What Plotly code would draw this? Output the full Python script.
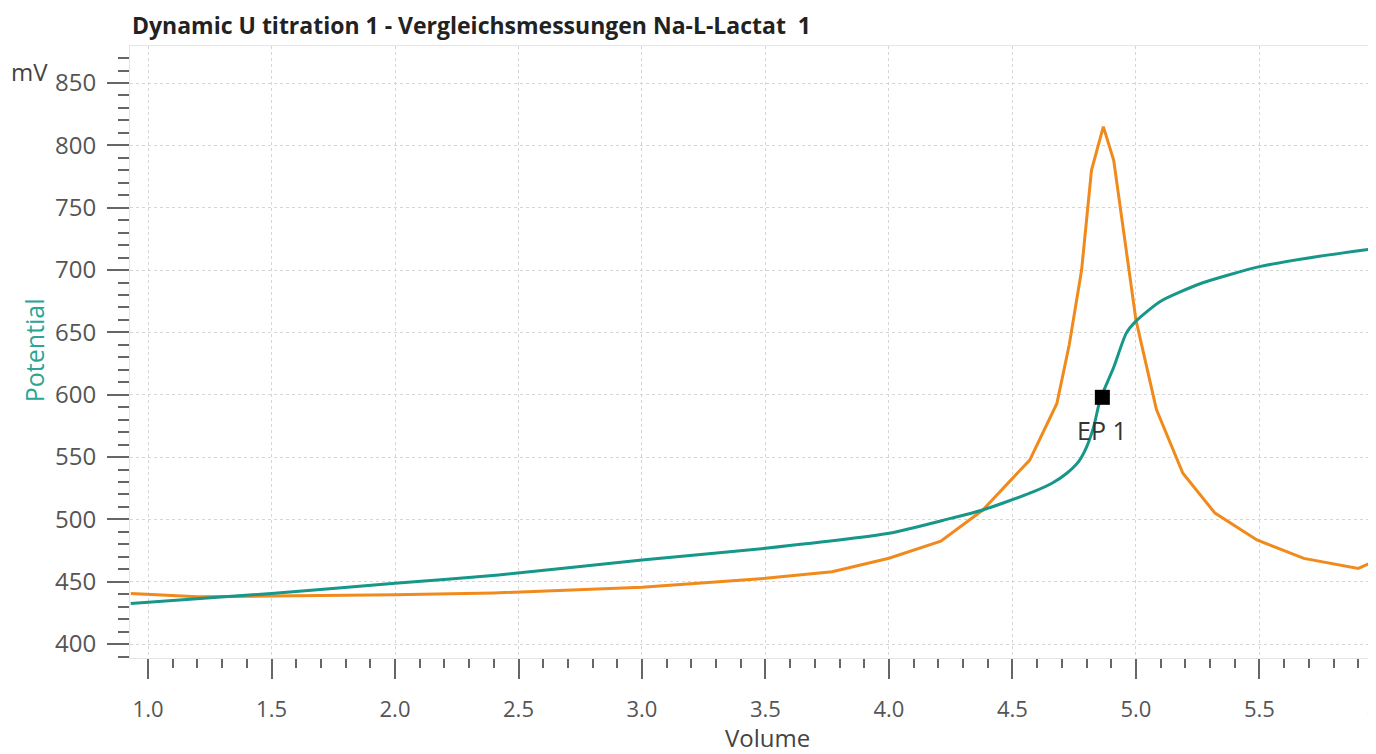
import plotly.graph_objects as go

# ---- data ----
volume_potential = [0.93, 1.5, 2.0, 2.42, 3.0, 3.5, 4.0, 4.25, 4.38, 4.57, 4.66, 4.72, 4.77, 4.80,
                    4.83, 4.855, 4.91, 4.96, 5.0, 5.1, 5.26, 5.5, 5.73, 5.975]
potential_mv = [432.5, 440.6, 448.7, 455.4, 467.4, 476.8, 488.8, 500.8, 507.5, 521.0, 529.0, 537.0,
                547.0, 558.0, 575.0, 596.0, 622.0, 649.0, 659.0, 675.0, 689.0, 702.7, 710.7, 717.5]

volume_deriv = [0.93, 1.2, 1.5, 2.0, 2.4, 3.0, 3.5, 3.77, 4.0, 4.21, 4.38, 4.57, 4.68, 4.73,
                4.78, 4.82, 4.868, 4.91, 5.0, 5.083, 5.19, 5.32, 5.49, 5.68, 5.90, 5.975]
deriv_mv = [440.5, 438.0, 438.5, 439.5, 441.0, 445.5, 452.7, 458.0, 468.8, 482.5, 507.5, 547.6,
            593.0, 640.0, 700.0, 780.0, 815.0, 788.0, 660.0, 588.0, 537.0, 505.0, 483.5, 468.7,
            460.7, 467.0]

ep_volume = [4.864]
ep_potential = [597.9]
ep_labels = ["EP 1"]

x_range = [0.927, 5.972]
y_range = [388.8, 879.7]

title_text = "Dynamic U titration 1 - Vergleichsmessungen Na-L-Lactat\u00a0 1"

TEAL = "#17968a"
ORANGE = "#f08a1c"
FONT = "Open Sans"

fig = go.Figure()
fig.add_trace(go.Scatter(x=volume_deriv, y=deriv_mv, mode="lines",
                         line=dict(color=ORANGE, width=3), showlegend=False))
fig.add_trace(go.Scatter(x=volume_potential, y=potential_mv, mode="lines",
                         line=dict(color=TEAL, width=3, shape="spline", smoothing=0.6),
                         showlegend=False))
fig.add_trace(go.Scatter(x=ep_volume, y=ep_potential, mode="markers",
                         marker=dict(symbol="square", size=15, color="black"),
                         showlegend=False))

for xv, yv, t in zip(ep_volume, ep_potential, ep_labels):
    fig.add_annotation(x=xv, y=yv, text=t, showarrow=False, yshift=-33,
                       font=dict(family=FONT, size=25, color="#333333"))

axis_common = dict(
    showgrid=True, gridcolor="#d6d6d6", griddash="dot", gridwidth=1,
    zeroline=False, showline=True, linecolor="#e4e4e4", linewidth=1, mirror=True,
    ticks="outside", tickwidth=2, tickcolor="#666666",
)

# the page body adds an 8px offset; the figure is sized to fill the rest of the window
fig.update_layout(
    width=1368, height=746,
    margin=dict(l=122, r=0, t=38, b=96),
    paper_bgcolor="white", plot_bgcolor="white",
    xaxis=dict(range=x_range, tick0=0, dtick=0.5, tickformat=".1f", ticklen=20,
               ticklabelstandoff=12,
               tickfont=dict(family=FONT, size=22, color="#555555"),
               minor=dict(dtick=0.1, ticks="outside", ticklen=9, tickwidth=2,
                          tickcolor="#666666", showgrid=False),
               **axis_common),
    yaxis=dict(range=y_range, tick0=0, dtick=50, ticklen=22, ticklabelstandoff=6,
               tickfont=dict(family=FONT, size=24, color="#555555"),
               minor=dict(dtick=10, ticks="outside", ticklen=11, tickwidth=2,
                          tickcolor="#666666", showgrid=False),
               **axis_common),
    font=dict(family=FONT),
)

# title
fig.add_annotation(xref="paper", yref="paper", x=0, y=1.034, xanchor="left", yanchor="middle",
                   text="<b>" + title_text + "</b>", showarrow=False,
                   font=dict(family=FONT, size=23, color="#222222"))
# unit
fig.add_annotation(xref="paper", yref="paper", x=-0.0803, y=0.959, xanchor="center", yanchor="middle",
                   text="mV", showarrow=False, font=dict(family=FONT, size=24, color="#444444"))
# y title
fig.add_annotation(xref="paper", yref="paper", x=-0.077, y=0.503, xanchor="center", yanchor="middle",
                   text="Potential", textangle=-90, showarrow=False,
                   font=dict(family=FONT, size=25, color="#2aa596"))
# x title
fig.add_annotation(xref="paper", yref="paper", x=0.512, y=-0.130, xanchor="center", yanchor="middle",
                   text="Volume", showarrow=False, font=dict(family=FONT, size=24, color="#444444"))
# partially visible next tick label at the cropped right edge
fig.add_annotation(xref="paper", yref="paper", x=(1383 - 130) / 1246, y=-0.089,
                   xanchor="center", yanchor="middle", text="6.0", showarrow=False,
                   font=dict(family=FONT, size=22, color="#555555"))

fig.write_html("out.html")
